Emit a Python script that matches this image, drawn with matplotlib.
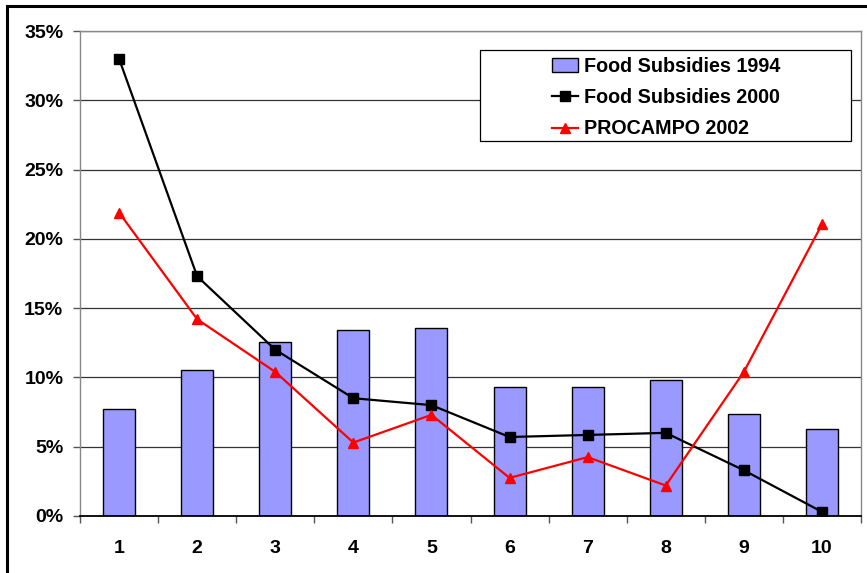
import numpy as np
import matplotlib.pyplot as plt
from matplotlib.patches import Rectangle
from matplotlib.ticker import FuncFormatter, FixedLocator

plt.rcParams['font.family'] = ['Liberation Sans', 'DejaVu Sans']
plt.rcParams['font.weight'] = 'bold'

deciles = ['1', '2', '3', '4', '5', '6', '7', '8', '9', '10']
food_1994 = [7.7, 10.55, 12.55, 13.4, 13.55, 9.3, 9.3, 9.8, 7.35, 6.3]
food_2000 = [33.0, 17.3, 12.0, 8.5, 8.0, 5.7, 5.85, 6.0, 3.3, 0.3]
procampo_2002 = [21.9, 14.2, 10.4, 5.3, 7.3, 2.75, 4.25, 2.2, 10.4, 21.05]

W, H = 867, 573
fig = plt.figure(figsize=(W / 100, H / 100), dpi=100)
# outer chart frame
fig.patches.append(Rectangle((7 / W, -0.05), 1.0, 1 - 6 / H + 0.05,
                             transform=fig.transFigure, fill=False,
                             edgecolor='black', linewidth=2.2))
ax = fig.add_axes([80 / W, 1 - 516 / H, 781 / W, 485 / H])

x = np.arange(len(deciles))
bars = ax.bar(x, food_1994, width=0.41, color='#9999FF', edgecolor='black',
              linewidth=1.0, label='Food Subsidies 1994', zorder=2)
l2000, = ax.plot(x, food_2000, color='black', marker='s', markersize=6.5,
                 linewidth=1.6, label='Food Subsidies 2000', zorder=3)
l2002, = ax.plot(x, procampo_2002, color='red', marker='^', markersize=7,
                 linewidth=1.6, label='PROCAMPO 2002', zorder=3)

ax.set_xlim(-0.5, len(deciles) - 0.5)
ax.set_ylim(0, 35)
ax.set_yticks(np.arange(0, 36, 5))
ax.yaxis.set_major_formatter(FuncFormatter(lambda v, p: '%d%%' % v))
ax.yaxis.grid(True, color='#333333', linewidth=0.9, zorder=0)
ax.set_axisbelow(True)

ax.set_xticks(x)
ax.set_xticklabels(deciles)
ax.xaxis.set_minor_locator(FixedLocator(np.arange(-0.5, len(deciles), 1.0)))
ax.tick_params(axis='x', which='major', length=0, pad=17, labelsize=14)
ax.tick_params(axis='x', which='minor', length=5, width=1, color='#555555', direction='out')
ax.tick_params(axis='y', length=5, width=1, color='#555555', pad=7, labelsize=14)

for side in ['left', 'right', 'top']:
    ax.spines[side].set_color('#888888')
    ax.spines[side].set_linewidth(1.0)
ax.spines['bottom'].set_color('black')
ax.spines['bottom'].set_linewidth(1.3)

# legend box, wider than its entries
ax.add_patch(Rectangle((480 / W, 1 - 141 / H), 371 / W, 91 / H,
                       transform=fig.transFigure, facecolor='white',
                       edgecolor='black', linewidth=0.9, zorder=4,
                       clip_on=False))
leg = ax.legend(handles=[bars, l2000, l2002],
                loc='upper left', bbox_to_anchor=(552 / W, 1 - 57 / H),
                bbox_transform=fig.transFigure, frameon=False,
                prop={'size': 14.2, 'weight': 'bold'},
                handlelength=1.3, handletextpad=0.3, borderpad=0,
                labelspacing=0.62, borderaxespad=0)
leg.set_zorder(5)

fig.savefig('out.png', dpi=100)
